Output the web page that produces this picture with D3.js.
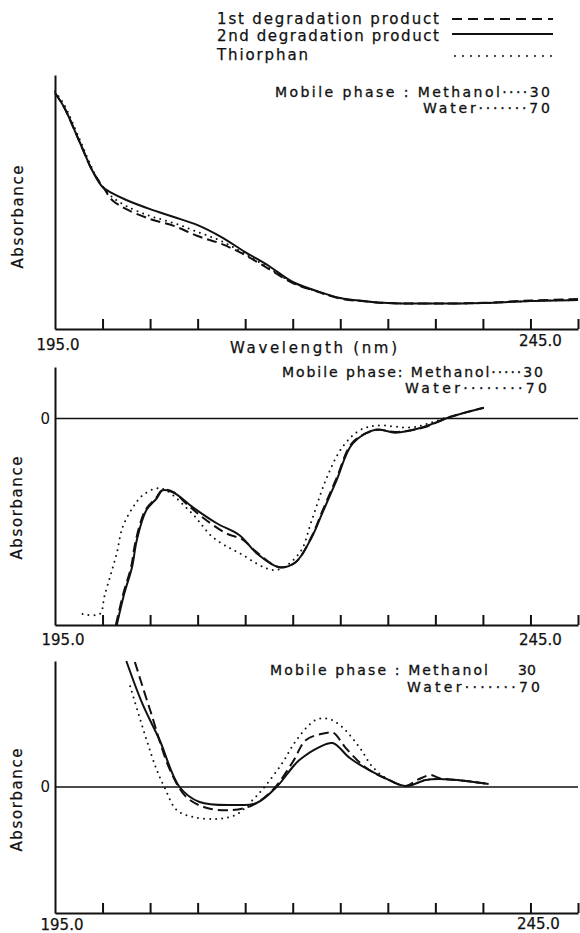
<!DOCTYPE html>
<html>
<head>
<meta charset="utf-8">
<style>
body{margin:0;background:#fff;}
svg{display:block;font-family:"DejaVu Sans",sans-serif;}
.axis path,.axis line{fill:none;stroke:#111;stroke-width:2;}
.axis text{font-size:15px;fill:#111;font-family:"DejaVu Sans",sans-serif;}
.curve{fill:none;stroke:#111;stroke-width:2;stroke-linejoin:round;}
.zero{stroke:#111;stroke-width:1.5;}
.lbl{font-size:15px;fill:#111;stroke:#111;stroke-width:0.25;}
.note{font-size:14px;fill:#111;stroke:#111;stroke-width:0.3;}
</style>
</head>
<body>
<svg id="chart"></svg>
<script src="https://cdn.jsdelivr.net/npm/d3@7"></script>
<script>

// ---- data (relative absorbance units) ----
var seriesNames = ["1st degradation product", "2nd degradation product", "Thiorphan"];
var xTickLabels = ["195.0", "245.0"];

// panel 1 : zero-order spectrum
var p1Nm     = [195,196,197.5,199,200,201,202.5,205,207.5,210,212.5,215,217.5,220,222.5,225,227.5,230,235,240,245,250];
var p1First  = [92.9,87.0,74.4,61.8,56.3,50.8,47.2,43.3,40.6,36.6,33.5,29.1,23.6,18.1,14.8,12.0,10.9,10.2,10.0,10.3,11.2,11.8];
var p1Second = [92.9,87.0,74.4,61.8,55.9,53.5,50.8,47.2,44.1,40.9,36.2,30.3,24.8,18.5,15.0,12.2,11.0,10.2,10.0,10.2,11.0,11.4];
var p1Thio   = [93.5,88.0,75.5,62.5,56.0,52.0,48.4,44.5,41.7,38.2,34.6,29.5,24.0,18.3,14.9,12.1,11.0,10.2,10.0,10.2,11.0,11.4];

// panel 2 : first derivative
var p2FirstNm  = [201.4,202.2,203,203.5,204.5,205.6,206.3,207.4,209,210.5,213,214.7,216.2,218.6,220.3,222,223.1,224.6,226.3,228.8,230.8,233.6,236.7,240.1];
var p2First    = [-100,-84.5,-72,-58.9,-44.4,-38.6,-34.5,-35.5,-42,-47.8,-55.6,-58.5,-64.7,-72,-69.6,-57,-45,-29,-11.5,-5.5,-6.5,-4.5,1,5.3];
var p2SecondNm = [201.5,202.3,203.1,203.6,204.6,205.7,206.3,207.4,209.5,212,214.4,216.2,218.6,220.3,222,223.1,224.6,226.3,228.8,230.8,233.6,236.7,240.1];
var p2Second   = [-100,-84.5,-72,-58.9,-44.4,-38.6,-34.8,-35.7,-43.0,-50.7,-56.5,-65.2,-72.0,-69.6,-57.5,-45.9,-30.0,-12.1,-5.3,-6.8,-4.3,1.0,5.3];
var p2ThioNm   = [197.9,199.7,200.2,200.9,201.5,202.1,203.2,204.2,205.7,206.7,209.5,211.6,214.4,218.2,220.7,222,223.5,225.2,227,228.8,232.5,234.6,236.4];
var p2Thio     = [-94.7,-94.7,-86,-74.9,-65.2,-52.7,-43,-37.2,-33.8,-34.8,-46.4,-57.5,-65.2,-73.4,-65.2,-49.3,-29.5,-14,-5.8,-3.4,-4.3,-1.9,1];

// panel 3 : second derivative
var p3FirstNm  = [203.4,205,207.1,208.8,211,213.7,215.8,217.9,220,221.4,223.5,224.3,225.5,227.6,230.1,231.9,233.2,234.5,235.4,238.2,240.6];
var p3First    = [99.2,61.1,13.5,-7.9,-16.7,-18.3,-14.3,-2.4,19.8,37.3,42.9,42.9,31.7,15.9,5.6,0.8,6,9.5,7.1,4.8,2.4];
var p3SecondNm = [202.5,204.2,206,208.1,210.2,213.7,216.2,218.3,220,220.7,222.8,224.2,226,228,230.1,231.9,234,235.4,238.2,240.6];
var p3Second   = [100,65.9,37.3,0,-11.9,-14.3,-12.7,0,15.9,21.4,31.7,34.9,23.0,13.5,5.6,0.8,5.6,6.3,4.8,2.4];
var p3ThioNm   = [202.9,204.6,205.7,206.5,207.8,209.5,212,214,215.8,217.2,218.9,220.4,222.4,223.8,225.2,227,228.4,230.1,231.9,234,235.4,238.2,240.6];
var p3Thio     = [80,38.1,13.5,0,-18.3,-23.8,-25.4,-22.2,-10.3,1.6,19,37.3,53.2,54,47.6,31.7,15.9,5.6,0.8,5.6,6.3,4.8,2.4];


var W = 580, H = 933;
var dashStyle = ["10,5", null, "0,6"];

var svg = d3.select("#chart").attr("width", W).attr("height", H);
svg.append("rect").attr("width", W).attr("height", H).attr("fill", "#fff");

var x = d3.scaleLinear().domain([195, 250]).range([55, 578]);

function zipSeries(nm, vals){
    return nm.map(function(d, i){ return {nm: d, v: vals[i]}; });
}

function buildPanel(cfg){
    var y = d3.scaleLinear().domain(cfg.domain).range([cfg.bottom, cfg.top]);
    var g = svg.append("g");

    if (cfg.zero){
        g.append("line").attr("class", "zero")
            .attr("x1", x(195)).attr("x2", x(250))
            .attr("y1", y(0)).attr("y2", y(0));
    }

    var line = d3.line()
        .x(function(d){ return x(d.nm); })
        .y(function(d){ return y(d.v); })
        .curve(d3.curveCatmullRom.alpha(0.5));

    cfg.series.forEach(function(s, i){
        g.append("path")
            .datum(s)
            .attr("class", "curve")
            .attr("d", line)
            .attr("stroke-dasharray", dashStyle[i])
            .attr("stroke-linecap", i == 2 ? "round" : "butt")
            .attr("stroke-width", i == 2 ? 2.2 : 2);
    });

    g.append("g").attr("class", "axis")
        .attr("transform", "translate(0," + cfg.bottom + ")")
        .call(d3.axisBottom(x).tickValues(d3.range(200, 251, 5)).tickSize(-10).tickSizeOuter(0).tickFormat(""));

    g.append("g").attr("class", "axis")
        .attr("transform", "translate(" + x(195) + ",0)")
        .call(d3.axisLeft(y).tickValues(cfg.zero ? [0] : []).tickSize(0).tickPadding(5).tickSizeOuter(0).tickFormat(d3.format("d")));

    g.append("text").attr("class", "lbl")
        .attr("transform", "translate(" + (cfg.absX) + "," + cfg.absY + ") rotate(-90)")
        .attr("text-anchor", "middle").attr("dy", "0.35em")
        .attr("textLength", 103).attr("lengthAdjust", "spacing")
        .text("Absorbance");

    g.append("text").attr("class", "lbl")
        .attr("x", x(195) + cfg.lab195[0]).attr("y", cfg.lab195[1])
        .attr("text-anchor", "middle").text(xTickLabels[0]);
    g.append("text").attr("class", "lbl")
        .attr("x", x(245) + cfg.lab245[0]).attr("y", cfg.lab245[1])
        .attr("text-anchor", "middle").text(xTickLabels[1]);

    cfg.notes.forEach(function(n){
        var t = g.append("text").attr("class", "note")
            .attr("x", n[0]).attr("y", n[1])
            .text(n[3]);
        if (n[2]) t.attr("textLength", n[2]).attr("lengthAdjust", "spacing");
    });
}

var dots4 = "\u00b7\u00b7\u00b7\u00b7", dots5 = dots4 + "\u00b7", dots7 = dots5 + "\u00b7\u00b7", dots8 = dots7 + "\u00b7";

buildPanel({
    domain: [0, 100], bottom: 329, top: 75, zero: false,
    absX: 18, absY: 217, lab195: [3, 350], lab245: [10, 346],
    series: [zipSeries(p1Nm, p1First), zipSeries(p1Nm, p1Second), zipSeries(p1Nm, p1Thio)],
    notes: [[275, 97, 275, "Mobile phase : Methanol" + dots4 + "30"],
            [423, 113, 127, "Water" + dots7 + "70"]]
});

buildPanel({
    domain: [-100, 25], bottom: 625, top: 367, zero: true,
    absX: 17, absY: 508, lab195: [8, 645], lab245: [10, 645],
    series: [zipSeries(p2FirstNm, p2First), zipSeries(p2SecondNm, p2Second), zipSeries(p2ThioNm, p2Thio)],
    notes: [[282, 377, 261, "Mobile phase: Methanol" + dots5 + "30"],
            [405, 393, 142, "Water" + dots8 + "70"]]
});

buildPanel({
    domain: [-100, 100], bottom: 913, top: 661, zero: true,
    absX: 17, absY: 800, lab195: [7, 930], lab245: [8, 929],
    series: [zipSeries(p3FirstNm, p3First), zipSeries(p3SecondNm, p3Second), zipSeries(p3ThioNm, p3Thio)],
    notes: [[270, 675, 218, "Mobile phase : Methanol"], [518, 675, 0, "30"],
            [407, 692, 133, "Water" + dots7 + "70"]]
});

// wavelength axis title (top panel only)
svg.append("text").attr("class", "lbl")
    .attr("x", 230).attr("y", 353)
    .attr("textLength", 167).attr("lengthAdjust", "spacing")
    .text("Wavelength (nm)");

// legend
var legRows = [24, 41, 60];
var legLineY = [19, 34, 56];
seriesNames.forEach(function(name, i){
    svg.append("text").attr("class", "lbl")
        .attr("x", 217).attr("y", legRows[i])
        .attr("textLength", i == 2 ? 91 : 222).attr("lengthAdjust", "spacing")
        .text(name);
    svg.append("line").attr("class", "curve")
        .attr("x1", i == 2 ? 455 : 452).attr("x2", 553)
        .attr("y1", legLineY[i]).attr("y2", legLineY[i])
        .attr("stroke-dasharray", i == 0 ? "10,6" : (i == 2 ? "0,8" : null))
        .attr("stroke-linecap", i == 2 ? "round" : "butt")
        .attr("stroke-width", i == 2 ? 2.4 : 2);
});

</script>
</body>
</html>
